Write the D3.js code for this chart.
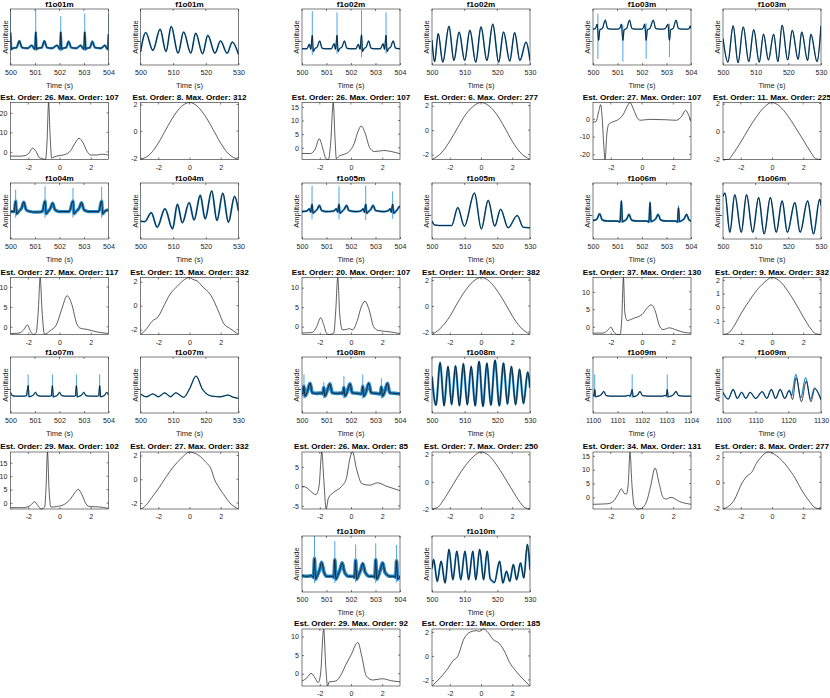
<!DOCTYPE html>
<html><head><meta charset="utf-8">
<script src="https://cdn.jsdelivr.net/npm/d3@7"></script>
<style>body{margin:0;background:#fff}svg{display:block}</style>
</head><body><svg id="c" width="830" height="698"></svg>
<script>
// ---------------- DATA ----------------
const records = ["f1o01m","f1o02m","f1o03m","f1o04m","f1o05m","f1o06m","f1o07m","f1o08m","f1o09m","f1o10m"];
const estOrderL = [26,26,27,27,20,37,29,26,34,29];
const maxOrderL = [107,107,107,117,107,130,102,85,131,92];
const estOrderR = [8,6,11,15,11,9,27,7,8,12];
const maxOrderR = [312,277,225,332,382,332,332,250,277,185];

const ecgTicks = [500,501,502,503,504];
const ecgTicks09 = [1100,1101,1102,1103,1104];
const respTicks = [500,510,520,530];
const respTicks09 = [1100,1110,1120,1130];
const phaseTicks = [-2,0,2];
const leftYTicks = [[0,10,20],[0,5,10,15],[-20,-10,0],[0,5,10],[0,5,10],[0,5,10],[0,5,10,15],[-5,0,5],[0,5,10,15],[0,5,10]];
const rightYTicks = [[-2,0,2],[-2,0,2],[-2,0,2],[-2,0,2],[-2,0,2],[-1,0,1,2],[-2,0,2],[-2,0,2],[-2,0,2],[-2,0,2]];

// ECG fitted (black) signals, [time, amplitude 0..10]
const ecg01 = [[500,5.8],[500.04,2.8],[500.1,3.0],[500.25,3.1],[500.36,4.3],[500.47,3.1],[500.7,3.0],[500.87,3.5],[500.95,3.0],[501.0,2.8],[501.03,5.9],[501.07,2.8],[501.13,3.0],[501.28,3.1],[501.38,4.3],[501.49,3.1],[501.7,3.0],[501.9,3.5],[501.98,3.0],[502.02,2.8],[502.05,5.9],[502.09,2.8],[502.15,3.0],[502.27,3.1],[502.37,4.2],[502.48,3.1],[502.7,3.0],[502.86,3.5],[502.95,3.0],[503.0,2.8],[503.03,5.9],[503.07,2.8],[503.13,3.0],[503.24,3.1],[503.34,4.2],[503.45,3.1],[503.7,3.0],[503.85,3.5],[503.93,3.0],[503.97,2.8],[504.0,5.5]];
const ecg02 = [[500,2.9],[500.2,2.9],[500.3,3.7],[500.36,2.8],[500.42,5.3],[500.46,2.4],[500.52,2.9],[500.62,3.2],[500.72,4.3],[500.82,3.0],[501.0,2.9],[501.2,2.9],[501.31,3.8],[501.37,2.8],[501.43,5.3],[501.47,2.4],[501.53,2.9],[501.63,3.2],[501.73,4.3],[501.83,3.0],[502.0,2.9],[502.2,2.9],[502.3,3.7],[502.37,2.8],[502.43,5.4],[502.47,2.4],[502.53,2.9],[502.62,3.2],[502.72,4.3],[502.82,3.0],[503.0,2.9],[503.2,2.9],[503.31,3.8],[503.37,2.8],[503.43,5.3],[503.47,2.4],[503.53,2.9],[503.62,3.2],[503.72,4.3],[503.82,3.0],[504,2.9]];
const ecg03 = [[500,6.4],[500.1,6.5],[500.17,7.3],[500.23,4.4],[500.28,6.3],[500.38,6.5],[500.5,8.0],[500.6,6.5],[500.8,6.4],[501.0,6.4],[501.1,6.6],[501.16,7.3],[501.22,4.4],[501.27,6.3],[501.37,6.5],[501.49,8.0],[501.59,6.5],[501.8,6.4],[502.0,6.4],[502.05,6.6],[502.11,7.3],[502.17,4.4],[502.22,6.3],[502.32,6.5],[502.46,8.0],[502.56,6.5],[502.8,6.4],[502.95,6.5],[503.06,7.3],[503.12,4.4],[503.17,6.3],[503.27,6.5],[503.39,8.0],[503.49,6.5],[503.7,6.4],[503.9,6.4],[503.98,7.0],[504,6.5]];
const ecg04 = [[500,4.9],[500.15,4.9],[500.21,6.8],[500.25,4.5],[500.35,5.0],[500.45,5.5],[500.54,6.6],[500.64,5.2],[500.8,4.9],[501.0,4.8],[501.3,4.9],[501.41,6.8],[501.45,4.5],[501.55,5.0],[501.63,5.5],[501.72,6.4],[501.82,5.2],[502.0,4.9],[502.4,4.9],[502.55,6.8],[502.59,4.5],[502.7,5.0],[502.8,5.5],[502.9,6.5],[503.0,5.2],[503.2,4.9],[503.6,4.9],[503.72,6.8],[503.76,4.5],[503.86,5.0],[504,5.2]];
const ecg05 = [[500,4.9],[500.2,5.0],[500.3,5.4],[500.36,4.8],[500.41,6.2],[500.45,4.6],[500.55,5.0],[500.62,5.3],[500.71,6.0],[500.8,5.1],[501.0,4.9],[501.3,5.0],[501.4,5.4],[501.46,4.8],[501.51,6.2],[501.55,4.6],[501.65,5.0],[501.72,5.3],[501.82,6.0],[501.91,5.1],[502.2,4.9],[502.4,5.0],[502.5,5.4],[502.55,4.8],[502.6,6.2],[502.64,4.6],[502.74,5.0],[502.81,5.3],[502.9,6.0],[503.0,5.1],[503.3,4.9],[503.5,5.0],[503.6,5.4],[503.65,4.8],[503.7,6.2],[503.74,4.6],[503.84,5.0],[503.9,5.3],[503.98,5.8],[504,5.6]];
const ecg06 = [[500,3.3],[500.15,3.5],[500.27,4.5],[500.38,3.4],[500.6,3.2],[501.0,3.2],[501.1,3.0],[501.16,6.8],[501.2,3.1],[501.3,3.3],[501.38,3.6],[501.47,4.4],[501.57,3.4],[501.8,3.2],[502.2,3.2],[502.28,3.0],[502.33,6.5],[502.37,3.1],[502.47,3.3],[502.56,3.6],[502.66,4.4],[502.76,3.4],[503.0,3.2],[503.38,3.2],[503.45,3.0],[503.49,5.6],[503.53,3.1],[503.63,3.3],[503.72,3.6],[503.82,4.4],[503.92,3.4],[504,3.2]];
const ecg07 = [[500,3.7],[500.05,3.2],[500.2,3.0],[500.5,3.0],[500.65,3.1],[500.72,4.9],[500.76,2.9],[500.85,3.0],[500.93,3.2],[501.02,3.7],[501.11,3.1],[501.3,3.0],[501.6,3.0],[501.67,3.1],[501.71,4.9],[501.75,2.9],[501.84,3.0],[501.92,3.2],[502.0,3.7],[502.09,3.1],[502.3,3.0],[502.6,3.0],[502.65,3.1],[502.69,4.9],[502.73,2.9],[502.82,3.0],[502.9,3.2],[502.99,3.7],[503.08,3.1],[503.3,3.0],[503.55,3.0],[503.6,3.1],[503.64,4.9],[503.68,2.9],[503.77,3.0],[503.85,3.2],[503.93,3.7],[504,3.2]];
const ecg08 = [[500,3.6],[500.04,3.4],[500.08,4.8],[500.12,3.0],[500.2,3.6],[500.33,5.3],[500.42,3.6],[500.6,3.5],[500.8,3.6],[500.85,3.4],[500.89,4.6],[500.93,3.0],[501.0,3.6],[501.14,5.2],[501.23,3.6],[501.45,3.5],[501.65,3.6],[501.67,3.4],[501.71,4.6],[501.75,3.0],[501.83,3.6],[501.96,5.2],[502.05,3.6],[502.3,3.5],[502.44,3.4],[502.48,4.8],[502.52,3.0],[502.6,3.6],[502.73,5.3],[502.82,3.6],[503.05,3.5],[503.2,3.4],[503.24,4.7],[503.28,3.0],[503.36,3.6],[503.49,5.3],[503.58,3.6],[503.8,3.5],[504,3.4]];
const ecg09 = [[1100,3.3],[1100.04,3.0],[1100.07,4.2],[1100.11,2.9],[1100.2,3.0],[1100.32,3.2],[1100.44,3.85],[1100.54,3.1],[1100.8,3.0],[1101.3,3.0],[1101.45,3.15],[1101.52,3.0],[1101.6,4.2],[1101.64,2.9],[1101.72,3.0],[1101.82,3.2],[1101.92,3.85],[1102.02,3.1],[1102.4,3.0],[1102.85,3.0],[1102.93,3.15],[1102.99,3.0],[1103.03,4.2],[1103.07,2.9],[1103.16,3.0],[1103.27,3.2],[1103.39,3.85],[1103.49,3.1],[1103.8,3.0],[1104,3.0]];
const ecg10 = [[500,2.9],[500.2,2.8],[500.4,2.9],[500.47,2.6],[500.51,6.0],[500.55,2.3],[500.63,3.0],[500.72,4.0],[500.8,5.3],[500.9,3.5],[501.0,2.8],[501.25,2.8],[501.3,2.6],[501.34,5.8],[501.38,2.3],[501.46,3.0],[501.55,4.0],[501.64,5.2],[501.74,3.5],[501.9,2.8],[502.1,2.8],[502.15,2.6],[502.19,5.7],[502.23,2.3],[502.31,3.0],[502.4,4.0],[502.48,5.1],[502.58,3.5],[502.75,2.8],[502.93,2.8],[502.97,2.6],[503.01,5.8],[503.05,2.3],[503.13,3.0],[503.2,4.0],[503.29,5.2],[503.39,3.5],[503.6,2.8],[503.78,2.8],[503.82,2.6],[503.86,5.6],[503.9,2.3],[504,2.9]];

// Raw ECG R-peak excursions (blue): [time, top, bottom]
const spk01 = [[500.0,10,2.5],[501.03,9.9,2.5],[502.05,8.7,2.4],[503.03,9.2,2.5],[504.0,9.0,2.5]];
const spk02 = [[500.42,9.6,1.8],[501.43,9.4,2.0],[502.43,9.8,1.4],[503.43,9.4,2.0]];
const spk03 = [[500.2,9.2,1.1],[501.22,7.2,0.6],[502.17,7.5,1.1],[503.12,7.4,1.4]];
const spk04 = [[500.21,8.8,3.8],[501.41,9.4,3.8],[502.55,9.1,3.8],[503.72,9.3,3.8]];
const spk05 = [[500.41,9.5,3.5],[501.51,9.4,3.5],[502.6,9.5,3.4],[503.7,8.5,3.6]];
const spk06 = [[501.16,7.0,2.9],[502.33,6.7,2.9],[503.49,6.0,2.9]];
const spk07 = [[500.72,6.9,2.8],[501.71,6.9,2.8],[502.69,6.9,2.8],[503.64,6.9,2.8]];
const spk08 = [[500.08,6.9,2.6],[500.89,5.5,2.6],[501.71,6.6,2.6],[502.48,6.9,2.6],[503.24,6.2,2.6]];
const spk09 = [[1100.07,6.9,2.8],[1101.6,6.9,2.7],[1103.03,6.9,2.7]];
const spk10 = [[500.51,10,1.6],[501.34,9.1,1.6],[502.19,8.5,1.7],[503.01,8.7,1.6],[503.86,8.4,1.7]];

// Respiration fitted signals, [time, amplitude 0..10]
const resp01 = [[500,2.3],[501.6,5.8],[503.8,2.6],[506.0,6.4],[507.8,2.4],[509.4,6.9],[511.5,2.1],[513.2,5.9],[515.4,2.1],[516.9,5.7],[519.0,2.0],[520.6,5.3],[522.8,2.1],[524.5,4.3],[526.5,2.1],[528.1,4.1],[530,1.9]];
const resp02 = [[500,4.4],[500.8,0.6],[501.9,5.6],[503.3,0.5],[505.2,6.9],[506.7,0.8],[508.3,5.9],[510.0,0.8],[511.6,6.2],[513.4,0.5],[515.0,6.8],[516.8,0.8],[518.6,7.3],[520.4,0.5],[521.9,5.9],[523.8,0.7],[525.3,5.8],[526.9,0.8],[528.8,4.1],[530,0.8]];
const resp03 = [[500,4.7],[501.5,0.5],[503.1,7.0],[504.6,0.4],[506.2,6.8],[507.9,0.6],[509.4,6.3],[511.1,0.5],[512.4,5.5],[513.9,0.9],[515.5,5.5],[516.8,0.6],[518.1,7.1],[519.8,0.9],[521.2,6.2],[523.0,1.0],[524.1,5.9],[525.9,0.8],[526.9,5.5],[528.8,0.6],[530,7.0]];
const resp04 = [[500,3.2],[501.3,3.1],[503.3,4.7],[505.1,2.1],[507.5,5.4],[509.8,1.8],[511.3,6.2],[512.8,2.9],[514.9,6.5],[516.4,3.4],[518.3,7.8],[519.8,3.6],[521.8,8.6],[523.4,3.3],[525.2,8.2],[526.9,3.0],[528.8,7.6],[530,5.0]];
const resp05 = [[500,3.2],[500.8,2.5],[503,2.4],[506.0,2.4],[507.9,5.6],[509.9,2.3],[513.0,8.2],[515.1,1.8],[517.2,6.9],[519.2,2.3],[521.0,5.3],[523.3,2.0],[526.1,4.2],[527.9,2.1],[530,2.0]];
const resp06 = [[500,7.6],[500.6,8.2],[502.1,1.2],[503.6,7.9],[505.6,1.2],[507.2,7.9],[509.1,1.2],[510.9,7.4],[512.6,0.9],[514.5,7.4],[516.3,1.2],[518.1,6.8],[519.7,1.2],[522.0,6.5],[523.6,1.2],[525.9,6.8],[527.7,0.9],[529.6,7.1],[530,6.0]];
const resp07 = [[500,3.4],[501.8,2.9],[503.8,3.4],[505.5,2.9],[507.4,3.6],[509.2,2.9],[510.8,3.6],[513.2,2.8],[515.0,4.3],[517.0,6.6],[519.0,4.2],[520.5,3.3],[522.0,3.0],[524.5,2.9],[526.7,3.2],[528.5,2.8],[530,2.6]];
const resp08 = [[500,6.5],[501.2,1.4],[502.5,9.0],[503.7,1.3],[504.9,8.3],[506.0,1.5],[507.2,8.4],[508.4,1.3],[509.6,8.8],[510.8,1.5],[512.0,8.3],[513.2,1.3],[514.4,9.2],[515.6,1.2],[516.8,8.9],[518.0,1.4],[519.3,9.4],[520.6,1.3],[521.9,8.9],[523.1,1.6],[524.3,8.3],[525.6,1.5],[526.8,7.8],[528.0,1.7],[529.3,7.3],[530,4.5]];
const resp09 = [[1100,3.7],[1101.6,2.5],[1103.1,4.2],[1104.4,2.6],[1105.7,3.7],[1107,2.6],[1108.3,3.7],[1110.0,2.6],[1112.0,3.8],[1113.4,2.6],[1114.8,4.2],[1116.1,2.6],[1117.5,4.2],[1118.9,2.6],[1120.3,4.0],[1121.3,2.4],[1122.4,6.3],[1124.0,2.0],[1125.5,5.7],[1126.9,2.0],[1128.1,4.3],[1130,2.3]];
const resp09Raw = [[1100,3.7],[1101.6,2.5],[1103.1,4.2],[1104.4,2.6],[1105.7,3.7],[1107,2.6],[1108.3,3.7],[1110.0,2.6],[1112.0,3.8],[1113.4,2.6],[1114.8,4.2],[1116.1,2.6],[1117.5,4.2],[1118.9,2.6],[1120.3,4.1],[1121.0,3.1],[1121.5,4.5],[1122.3,6.9],[1123.8,2.7],[1125.3,6.3],[1126.8,2.5],[1128.0,4.5],[1130,2.4]];
const resp10 = [[500,4.2],[500.5,5.8],[501.6,1.9],[502.8,5.5],[504.0,1.6],[505.2,7.6],[506.4,2.2],[507.6,7.3],[508.8,2.2],[510.1,7.3],[511.2,2.2],[512.5,7.3],[513.4,2.2],[514.6,7.6],[515.8,2.2],[516.9,7.3],[517.8,2.4],[518.4,2.0],[519.1,1.7],[520.7,5.5],[521.7,1.6],[522.8,3.7],[523.8,1.9],[524.9,4.9],[525.9,2.2],[527.1,5.2],[528.1,2.5],[529.2,8.5],[530,4.0]];

// Bottom-left curves (ECG model), [phase, value]
const cL01 = [[-3.14,-2.2],[-2.6,-2.2],[-2.2,-1.9],[-1.95,-0.5],[-1.73,1.9],[-1.5,0.2],[-1.3,-2.9],[-1.05,-3.6],[-0.9,-3.9],[-0.8,5],[-0.7,25.3],[-0.6,8],[-0.5,-3.2],[-0.35,-2.6],[-0.1,-2.0],[0.3,-1.5],[0.7,0.5],[1.0,4.5],[1.25,7.0],[1.5,4.8],[1.75,0.5],[2.0,-1.6],[2.4,-1.6],[2.7,-1.2],[3.0,-1.4],[3.14,-1.8]];
const cL02 = [[-3.14,-2.1],[-2.6,-2.1],[-2.3,-0.5],[-2.03,3.3],[-1.8,-0.5],[-1.6,-4.0],[-1.45,-4.3],[-1.3,2],[-1.14,16.6],[-1.02,3],[-0.94,-4.0],[-0.75,-3.0],[-0.5,-2.5],[-0.1,-1.3],[0.2,1.5],[0.45,6.0],[0.66,8.0],[0.9,5.5],[1.2,0.0],[1.5,-1.4],[2.1,-1.0],[2.6,-1.4],[3.14,-2.2]];
const cL03 = [[-3.14,-1.9],[-2.95,-1.5],[-2.78,4],[-2.65,8.0],[-2.55,0],[-2.45,-15],[-2.37,-22.9],[-2.25,-8],[-2.12,-2.9],[-1.9,-1.8],[-1.6,-0.8],[-1.2,2.5],[-0.95,7.0],[-0.77,9.2],[-0.55,5.5],[-0.3,0.5],[-0.1,-0.8],[0.5,-0.3],[1.5,-0.5],[2.2,-0.8],[2.55,1.5],[2.8,4.8],[3.0,1.8],[3.14,-1.5]];
const cL04 = [[-3.14,-1.7],[-2.6,-1.6],[-2.3,-0.8],[-2.06,0.45],[-1.85,-1.2],[-1.68,-1.95],[-1.5,-1.5],[-1.36,4],[-1.24,12.4],[-1.12,4],[-0.96,-1.9],[-0.6,-1.0],[-0.2,0.5],[0.15,4.5],[0.49,7.8],[0.8,5.5],[1.1,0.8],[1.3,-0.3],[1.8,-0.7],[2.4,-1.3],[3.14,-1.7]];
const cL05 = [[-3.14,-1.6],[-2.5,-1.5],[-2.2,0],[-1.95,2.3],[-1.75,0.5],[-1.55,-1.8],[-1.4,-2.0],[-1.1,-1.6],[-0.98,4],[-0.85,12.6],[-0.72,3],[-0.55,-0.8],[-0.3,-0.7],[-0.1,-0.5],[0.1,-0.8],[0.4,1.5],[0.65,5],[0.89,6.5],[1.15,4.5],[1.45,0],[1.7,-0.9],[2.2,-1.2],[2.8,-1.5],[3.14,-1.8]];
const cL06 = [[-3.14,-1.8],[-2.5,-1.8],[-2.2,-1.0],[-2.0,-0.1],[-1.8,-1.5],[-1.6,-2.2],[-1.4,-2.2],[-1.3,2],[-1.19,14.1],[-1.1,4],[-0.95,1.8],[-0.5,2.5],[0,3.5],[0.3,5.2],[0.58,6.3],[0.85,4.5],[1.1,0.5],[1.35,-0.8],[1.75,-0.3],[2.2,-0.9],[2.7,-1.6],[3.14,-1.8]];
const cL07 = [[-3.14,-1.7],[-2.3,-1.7],[-1.85,-0.8],[-1.6,0.5],[-1.4,-0.8],[-1.17,-2.2],[-0.95,-1.5],[-0.87,5],[-0.77,19],[-0.67,5],[-0.55,-1.5],[-0.2,-1.3],[0.3,-0.5],[0.7,1.5],[1.0,4.0],[1.2,5.1],[1.45,3.0],[1.7,-0.3],[1.95,-1.3],[2.5,-1.4],[3.14,-2.0]];
const cL08 = [[-3.14,0],[-2.9,-0.2],[-2.6,-1.2],[-2.25,-2.1],[-2.05,0],[-1.87,8.8],[-1.75,2],[-1.59,-5.8],[-1.45,-3],[-1.1,-1.5],[-0.6,0.0],[-0.3,2.0],[-0.05,7.5],[0.1,8.8],[0.35,4.5],[0.7,0.7],[1.2,0.3],[1.69,0.9],[2.3,0.0],[3.14,-1.1]];
const cL09 = [[-3.14,-2.5],[-2.2,-2.3],[-1.8,-1.2],[-1.5,1.5],[-1.32,3.1],[-1.15,1.5],[-1.0,1.2],[-0.88,5],[-0.77,16.4],[-0.65,5],[-0.5,-3.0],[-0.25,-4.2],[-0.05,-4.0],[0.3,-1.4],[0.55,4],[0.84,10.6],[1.1,5],[1.35,0.0],[1.55,-0.6],[1.87,0.0],[2.4,-1.5],[3.14,-2.5]];
const cL10 = [[-3.14,-2.0],[-2.85,-1.2],[-2.55,0.1],[-2.3,-1.2],[-2.1,-2.4],[-1.95,0],[-1.75,12],[-1.62,2],[-1.5,-3.3],[-1.4,-2.2],[-1.0,-2.0],[-0.6,0.0],[-0.37,2.1],[0.0,5.0],[0.44,8.4],[0.7,4.5],[0.98,-0.6],[1.4,-1.7],[1.99,-1.35],[2.6,-1.9],[3.14,-2.2]];

// Bottom-right curves (respiration model), [phase, value]
const cR01 = [[-3.14,-2.13],[-2.5,-1.7],[-2,-0.9],[-1.5,0.15],[-1,1.15],[-0.5,1.87],[0,2.15],[0.5,1.87],[1,1.15],[1.5,0.15],[2,-0.9],[2.5,-1.7],[3.14,-2.13]];
const cR02 = [[-3.14,-2.4],[-2.5,-1.8],[-2,-0.9],[-1.5,0.2],[-1,1.25],[-0.5,1.95],[0,2.26],[0.5,2.0],[1,1.3],[1.5,0.25],[2,-0.9],[2.5,-1.8],[3.14,-2.4]];
const cR03 = [[-3.14,-2.0],[-2.8,-2.0],[-2.5,-1.6],[-2,-0.75],[-1.5,0.2],[-1,1.05],[-0.5,1.75],[0,2.08],[0.5,1.8],[1,1.15],[1.5,0.3],[2,-0.6],[2.5,-1.5],[2.8,-1.95],[3.14,-2.0]];
const cR04 = [[-3.14,-2.4],[-2.8,-2.0],[-2.4,-1.3],[-2.0,-0.9],[-1.6,0.1],[-1.25,0.95],[-0.8,1.6],[-0.4,2.1],[0,2.35],[0.2,2.2],[0.5,2.05],[0.9,1.5],[1.3,1.0],[1.6,0.3],[1.9,-0.6],[2.2,-1.5],[2.6,-1.9],[3.14,-2.4]];
const cR05 = [[-3.14,-2.2],[-2.5,-1.6],[-2,-0.8],[-1.5,0.25],[-1,1.2],[-0.5,1.9],[0,2.2],[0.5,1.95],[1,1.25],[1.5,0.3],[2,-0.75],[2.5,-1.6],[3.14,-2.2]];
const cR06 = [[-3.14,-2.0],[-2.8,-1.9],[-2.5,-1.5],[-2.0,-0.5],[-1.5,0.4],[-1.0,1.2],[-0.5,1.8],[0,2.17],[0.5,1.9],[1.0,1.2],[1.5,0.3],[2.0,-0.7],[2.5,-1.6],[2.8,-1.95],[3.14,-2.0]];
const cR07 = [[-3.14,-2.5],[-2.8,-2.2],[-2.4,-1.5],[-2.0,-0.8],[-1.5,0.2],[-1.0,1.1],[-0.5,1.8],[0,2.29],[0.3,2.2],[0.6,2.0],[1.0,1.5],[1.4,0.8],[1.6,0.0],[1.8,-0.5],[2.2,-1.3],[2.6,-2.0],[3.14,-2.5]];
const cR08 = [[-3.14,-2.0],[-2.8,-1.9],[-2.5,-1.5],[-2,-0.6],[-1.5,0.35],[-1,1.2],[-0.5,1.85],[0,2.2],[0.5,1.95],[1,1.25],[1.5,0.35],[2,-0.6],[2.5,-1.5],[2.8,-1.9],[3.14,-2.0]];
const cR09 = [[-3.14,-2.1],[-2.8,-1.9],[-2.45,-1.45],[-1.9,0],[-1.6,0.5],[-1.3,0.8],[-1.0,1.5],[-0.7,2.0],[-0.24,2.4],[0.3,2.1],[1.0,1.2],[1.5,0.3],[1.9,-0.6],[2.4,-1.5],[2.76,-2.0],[3.14,-2.1]];
const cR10 = [[-3.14,-2.5],[-2.6,-1.8],[-2.1,-1.0],[-1.8,-0.4],[-1.5,-0.05],[-1.1,1.4],[-0.67,2.0],[-0.3,2.1],[-0.1,2.05],[0.15,2.24],[0.45,1.95],[0.75,1.4],[1.2,1.0],[1.5,0.4],[1.84,-0.55],[2.2,-1.2],[2.6,-1.8],[3.14,-2.5]];

// ---------------- TABLES built from the arrays ----------------
const ecgFit = [ecg01,ecg02,ecg03,ecg04,ecg05,ecg06,ecg07,ecg08,ecg09,ecg10];
const ecgSpikes = [spk01,spk02,spk03,spk04,spk05,spk06,spk07,spk08,spk09,spk10];
const respFit = [resp01,resp02,resp03,resp04,resp05,resp06,resp07,resp08,resp09,resp10];
const respRaw = [resp01,resp02,resp03,resp04,resp05,resp06,resp07,resp08,resp09Raw,resp10];
const curvesL = [cL01,cL02,cL03,cL04,cL05,cL06,cL07,cL08,cL09,cL10];
const curvesR = [cR01,cR02,cR03,cR04,cR05,cR06,cR07,cR08,cR09,cR10];

// ---------------- LAYOUT / STYLE ----------------
const gridPos = [[0,0],[1,0],[2,0],[0,1],[1,1],[2,1],[0,2],[1,2],[2,2],[1,3]];
const colX = [10.5, 302, 593];
const RIGHT_OFF = 130;
const W = 98;
const topY = [9, 183, 357, 536];
const botY = [102.5, 277.5, 452, 629];
const TOP_H = 56, BOT_H = 57;
const ecgBand = [2.4, 1.4, 1.3, 3.2, 2.2, 2.0, 1.3, 3.6, 1.3, 3.6];
const respBand = [1.7, 1.6, 1.4, 1.9, 1.6, 1.6, 1.3, 2.2, 1.3, 1.9];
const FONT = "'Liberation Sans', Arial, Helvetica, sans-serif";
const FS = 7.1, LFS = 7.5, TFS = 8.1;
const AXC = "#262626", TXT = "#262626";
const BLUE = "#0072BD", LBLUE = "#4DA6E8";
const TL = 2;

const svg = d3.select("#c");
let clipN = 0;
function clip(x,y,w,h){
  const id = "cp"+(clipN++);
  svg.append("clipPath").attr("id",id).append("rect").attr("x",x).attr("y",y).attr("width",w).attr("height",h);
  return "url(#"+id+")";
}

function frame(x0,y0,w,h,xs,ys,xTicks,yTicks){
  const g = svg.append("g");
  const gx = g.append("g").attr("transform",`translate(0,${y0+h})`)
    .call(d3.axisBottom(xs).tickValues(xTicks).tickSizeInner(-TL).tickSizeOuter(0).tickPadding(5).tickFormat(d=>String(d)));
  gx.select(".domain").remove();
  gx.attr("font-size",FS).attr("font-family",FONT);
  gx.selectAll("line").attr("stroke",AXC).attr("stroke-width",0.6);
  gx.selectAll("text").attr("fill",TXT);
  g.selectAll(null).data(xTicks).join("line")
    .attr("x1",d=>xs(d)).attr("x2",d=>xs(d)).attr("y1",y0).attr("y2",y0+TL)
    .attr("stroke",AXC).attr("stroke-width",0.6);
  if (yTicks){
    const gy = g.append("g").attr("transform",`translate(${x0},0)`)
      .call(d3.axisLeft(ys).tickValues(yTicks).tickSizeInner(-TL).tickSizeOuter(0).tickPadding(3).tickFormat(d=>String(d)));
    gy.select(".domain").remove();
    gy.attr("font-size",FS).attr("font-family",FONT);
    gy.selectAll("line").attr("stroke",AXC).attr("stroke-width",0.6);
    gy.selectAll("text").attr("fill",TXT);
    g.selectAll(null).data(yTicks).join("line")
      .attr("x1",x0+w-TL).attr("x2",x0+w).attr("y1",d=>ys(d)).attr("y2",d=>ys(d))
      .attr("stroke",AXC).attr("stroke-width",0.6);
  }
  g.append("rect").attr("x",x0).attr("y",y0).attr("width",w).attr("height",h)
    .attr("fill","none").attr("stroke",AXC).attr("stroke-width",0.6);
}

function title(x,y,txt){
  svg.append("text").attr("x",x).attr("y",y).attr("text-anchor","middle")
    .attr("font-family",FONT).attr("font-size",TFS).attr("font-weight","bold").attr("fill","#000").text(txt);
}
function xLabel(x0,y0,w,h){
  svg.append("text").attr("x",x0+w/2).attr("y",y0+h+22.5).attr("text-anchor","middle")
    .attr("font-family",FONT).attr("font-size",LFS).attr("fill",TXT).text("Time (s)");
}
function yLabel(x0,y0,h){
  svg.append("text").attr("transform",`translate(${x0-3},${y0+h/2}) rotate(-90)`).attr("text-anchor","middle")
    .attr("font-family",FONT).attr("font-size",LFS).attr("fill",TXT).text("Amplitude");
}

const lineGen = (xs,ys)=>d3.line().x(d=>xs(d[0])).y(d=>ys(d[1])).curve(d3.curveMonotoneX);

function topPlot(x0,y0,dom,ticks,fit,raw,spikes,band,name){
  const xs = d3.scaleLinear().domain(dom).range([x0,x0+W]);
  const ys = d3.scaleLinear().domain([0,10]).range([y0+TOP_H,y0]);
  const g = svg.append("g").attr("clip-path",clip(x0,y0,W,TOP_H));
  const lg = lineGen(xs,ys);
  g.append("path").attr("d",lg(raw)).attr("fill","none").attr("stroke",BLUE)
    .attr("stroke-width",band).attr("stroke-linejoin","round").attr("stroke-opacity",0.85);
  if (spikes){
    g.selectAll(null).data(spikes).join("line")
      .attr("x1",d=>xs(d[0])).attr("x2",d=>xs(d[0])).attr("y1",d=>ys(d[1])).attr("y2",d=>ys(d[2]))
      .attr("stroke",LBLUE).attr("stroke-width",1.0);
  }
  g.append("path").attr("d",lg(fit)).attr("fill","none").attr("stroke","#000")
    .attr("stroke-width",0.7).attr("stroke-linejoin","round");
  frame(x0,y0,W,TOP_H,xs,ys,ticks,null);
  title(x0+W/2,y0-2.5,name);
  xLabel(x0,y0,W,TOP_H);
  yLabel(x0,y0,TOP_H);
}

function botPlot(x0,y0,data,yTicks,ttl){
  const xs = d3.scaleLinear().domain([-Math.PI,Math.PI]).range([x0,x0+W]);
  const ys = d3.scaleLinear().domain(d3.extent(data,d=>d[1])).range([y0+BOT_H,y0]);
  const g = svg.append("g").attr("clip-path",clip(x0,y0-1,W,BOT_H+2));
  g.append("path").attr("d",lineGen(xs,ys)(data)).attr("fill","none").attr("stroke","#1a1a1a")
    .attr("stroke-width",0.7).attr("stroke-linejoin","round");
  frame(x0,y0,W,BOT_H,xs,ys,phaseTicks,yTicks);
  title(x0+W/2,y0-2.8,ttl);
}

records.forEach((name,i)=>{
  const [c,r] = gridPos[i];
  const xl = colX[c], xr = colX[c]+RIGHT_OFF;
  const is09 = name==="f1o09m";
  topPlot(xl, topY[r], is09?[1100,1104]:[500,504], is09?ecgTicks09:ecgTicks, ecgFit[i], ecgFit[i], ecgSpikes[i], ecgBand[i], name);
  topPlot(xr, topY[r], is09?[1100,1130]:[500,530], is09?respTicks09:respTicks, respFit[i], respRaw[i], null, respBand[i], name);
  botPlot(xl, botY[r], curvesL[i], leftYTicks[i], `Est. Order: ${estOrderL[i]}. Max. Order: ${maxOrderL[i]}`);
  botPlot(xr, botY[r], curvesR[i], rightYTicks[i], `Est. Order: ${estOrderR[i]}. Max. Order: ${maxOrderR[i]}`);
});
</script></body></html>
